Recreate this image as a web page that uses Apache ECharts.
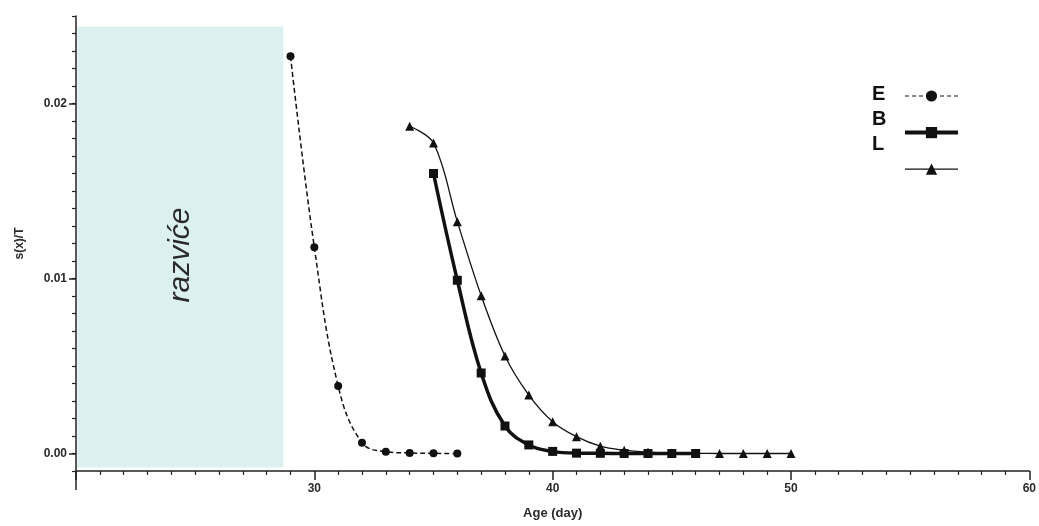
<!DOCTYPE html>
<html>
<head>
<meta charset="utf-8">
<script src="https://cdn.jsdelivr.net/npm/echarts@6/dist/echarts.min.js"></script>
<style>
  html, body { margin: 0; padding: 0; background: #fff; }
  #chart { width: 1039px; height: 526px; }
</style>
</head>
<body>
<div id="chart"></div>
<script>
const eAge = [29, 30, 31, 32, 33, 34, 35, 36]
const eVal = [0.0227, 0.01178, 0.00386, 0.00062, 0.0001, 0.00003, 0.00001, 0]

const bAge = [35, 36, 37, 38, 39, 40, 41, 42, 43, 44, 45, 46]
const bVal = [0.0160, 0.0099, 0.0046, 0.00157, 0.00049, 0.00012, 0.00002, 0.00001, 0, 0, 0, 0]

const lAge = [34, 35, 36, 37, 38, 39, 40, 41, 42, 43, 44, 45, 46, 47, 48, 49, 50]
const lVal = [0.0187, 0.01774, 0.01325, 0.00902, 0.00557, 0.00334, 0.00182, 0.00096, 0.00042, 0.00019, 0.00008, 0.00003, 0.00001, 0, 0, 0, 0]

const seriesNames = ['E', 'B', 'L']
const yMajorTicks = [0, 0.01, 0.02]
const xLabels = [30, 40, 50, 60]
const devPeriod = [20.05, 28.7]   // razviće shading, in days
const devLabel = 'razviće'

const ink = '#111'
const labelFont = { color: '#2b2b2b', fontWeight: 'bold', fontSize: 12, fontFamily: 'Liberation Sans Narrow, Liberation Sans, Arial, sans-serif' }

const zip = (xs, ys) => xs.map((x, i) => [x, ys[i]])

const chart = echarts.init(document.getElementById('chart'))

const option = {
  animation: false,
  grid: { left: 76, right: 7, top: 16, bottom: 55 },
  legend: [
    {
      orient: 'vertical',
      left: 898,
      top: 84,
      itemWidth: 53,
      itemHeight: 14,
      itemGap: 24,
      formatter: () => '',
      data: [
        { name: 'E', lineStyle: { width: 1.2, type: [4, 3] } },
        { name: 'B', lineStyle: { width: 4 } },
        { name: 'L', lineStyle: { width: 1.3 } }
      ]
    },
    {
      orient: 'vertical',
      left: 861,
      top: 79,
      itemWidth: 0,
      itemHeight: 0,
      itemGap: 5,
      textStyle: { color: '#111', fontWeight: 'bold', fontSize: 20, fontFamily: 'Liberation Sans, Arial, sans-serif' },
      data: seriesNames
    }
  ],
  xAxis: {
    type: 'value',
    min: 20,
    max: 60,
    interval: 10,
    name: 'Age (day)',
    nameLocation: 'middle',
    nameGap: 36,
    nameTextStyle: { ...labelFont, fontSize: 13 },
    axisLine: { onZero: false, lineStyle: { color: '#222', width: 1.5 } },
    axisTick: { length: 9, lineStyle: { color: '#222', width: 1.5 } },
    minorTick: { show: true, splitNumber: 10, length: 4, lineStyle: { color: '#222', width: 1.2 } },
    axisLabel: {
      ...labelFont,
      margin: 12,
      formatter: v => (xLabels.includes(v) ? String(v) : '')
    },
    splitLine: { show: false }
  },
  yAxis: [
    {
      type: 'value',
      min: -0.001,
      max: 0.025,
      interval: 0.001,
      axisLine: { show: true, onZero: false, lineStyle: { color: '#222', width: 1.5 } },
      axisTick: { length: 4, lineStyle: { color: '#222', width: 1.2 } },
      axisLabel: { show: false },
      splitLine: { show: false }
    },
    {
      type: 'value',
      position: 'left',
      min: -0.001,
      max: 0.025,
      name: 's(x)/T',
      nameLocation: 'middle',
      nameGap: 50,
      nameTextStyle: labelFont,
      axisLine: { show: false, onZero: false },
      axisTick: { show: true, length: 7, customValues: yMajorTicks, lineStyle: { color: '#222', width: 1.5 } },
      axisLabel: { ...labelFont, margin: 9, customValues: yMajorTicks, formatter: v => v.toFixed(2) },
      splitLine: { show: false }
    }
  ],
  series: [
    {
      name: 'E',
      type: 'line',
      data: zip(eAge, eVal),
      smooth: 0.4,
      symbol: 'circle',
      symbolSize: 8,
      itemStyle: { color: ink },
      lineStyle: { color: ink, width: 1.5, type: [5, 3] },
      z: 3,
      markArea: {
        silent: true,
        itemStyle: { color: '#ddf0f0' },
        label: {
          show: true,
          position: 'inside',
          rotate: 90,
          color: '#2a2a2a',
          fontSize: 30,
          fontStyle: 'italic',
          fontFamily: 'Liberation Sans, Arial, sans-serif',
          offset: [-8, 0]
        },
        data: [[
          { name: devLabel, xAxis: devPeriod[0], yAxis: -0.0008 },
          { xAxis: devPeriod[1], yAxis: 0.0244 }
        ]]
      }
    },
    {
      name: 'B',
      type: 'line',
      data: zip(bAge, bVal),
      smooth: 0.4,
      symbol: 'rect',
      symbolSize: 9,
      itemStyle: { color: ink },
      lineStyle: { color: ink, width: 3.5 },
      z: 4
    },
    {
      name: 'L',
      type: 'line',
      data: zip(lAge, lVal),
      smooth: 0.35,
      symbol: 'triangle',
      symbolSize: 9,
      itemStyle: { color: ink },
      lineStyle: { color: ink, width: 1.3 },
      z: 3
    }
  ]
}

chart.setOption(option)

// Prism-style: the y axis line runs on a little below the x axis
const x0 = chart.convertToPixel({ xAxisIndex: 0 }, 20)
const y0 = chart.convertToPixel({ yAxisIndex: 0 }, -0.001)
chart.setOption({
  graphic: [{
    type: 'line',
    shape: { x1: x0, y1: y0, x2: x0, y2: y0 + 19 },
    style: { stroke: '#222', lineWidth: 1.5 },
    silent: true
  }]
})
</script>
</body>
</html>
